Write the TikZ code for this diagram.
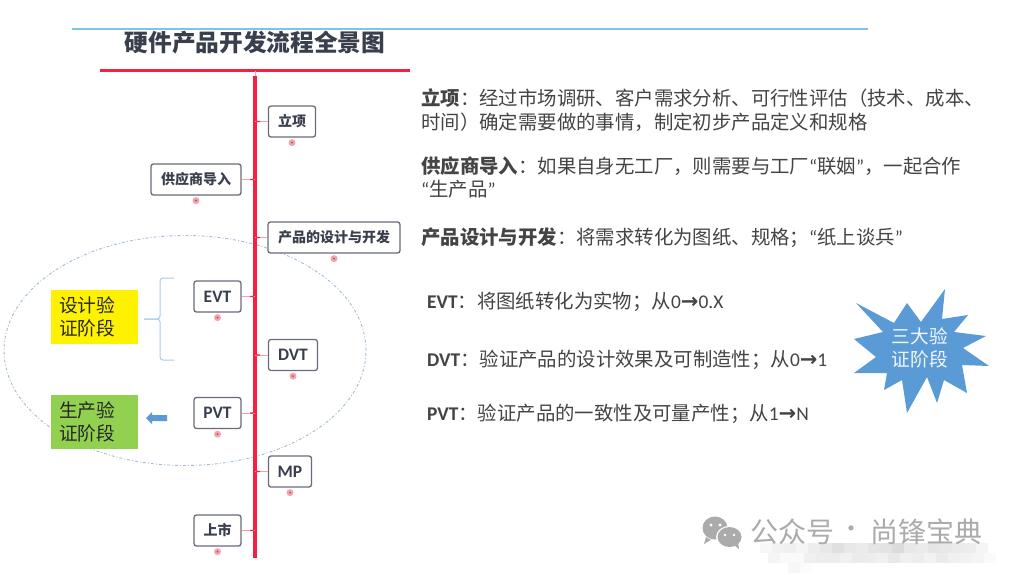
\documentclass[tikz,border=0pt]{standalone}
\usepackage{fontspec}
\setmainfont{Noto Sans CJK SC}
\newfontfamily\latn{Carlito}
\newfontfamily\arrowfont{DejaVu Sans}
\newcommand{\la}[1]{{\latn #1}}
\newcommand{\ar}{{\arrowfont\bfseries\fontsize{21}{19}\selectfont →}}
\definecolor{spinered}{HTML}{F5203F}
\definecolor{linkpink}{HTML}{F9A0AC}
\definecolor{boxedge}{HTML}{686C7A}
\definecolor{boxtext}{HTML}{3A3F4E}
\definecolor{bodytext}{HTML}{444444}
\definecolor{skyline}{HTML}{7CC4EA}
\definecolor{starblue}{HTML}{5B9BD5}
\definecolor{bracecol}{HTML}{A9CDEB}
\definecolor{ellcol}{HTML}{A3BDD6}
\definecolor{wmgray}{HTML}{ABABAB}
\definecolor{stagegreen}{HTML}{92D050}
\tikzset{
  x=1pt,y=-1pt,
  topic/.style={draw=boxedge,line width=1.3pt,rounded corners=2.5pt,fill=white,inner sep=0pt,
     font=\bfseries\fontsize{14}{14}\selectfont,text=boxtext,minimum height=31pt},
  latintopic/.style={topic,font=\bfseries\fontsize{17.5}{17.5}\selectfont\latn},
  link/.style={draw=linkpink,line width=1pt},
  tick/.style={draw=spinered,line width=1.2pt},
  para/.style={anchor=west,align=left,inner sep=0pt,text=bodytext,font=\fontsize{19.4}{23.5}\selectfont},
  stage/.style={inner xsep=8pt,inner ysep=0pt,text width=71pt,minimum height=54pt,align=left,text=black!85,
     font=\fontsize{18.7}{23}\selectfont},
  foldmark/.style={circle,fill=linkpink,draw=none,minimum size=7pt,inner sep=0pt},
}
\begin{document}
\begin{tikzpicture}
\useasboundingbox (0,0) rectangle (1015,574);
\fill[white] (0,0) rectangle (1015,574);
% rules
\coordinate (blueL) at (72,29); \coordinate (blueR) at (868,29);
\draw[skyline,line width=1.2pt] (blueL) -- (blueR);
\coordinate (redL) at (100,70.5); \coordinate (redR) at (410,70.5);
\draw[spinered,line width=3.6pt] (redL) -- (redR);
\node[anchor=center,inner sep=0pt,text=boxtext,font=\bfseries\fontsize{23.7}{24}\selectfont] (title) at (255,43) {硬件产品开发流程全景图};
% dash-dotted ellipse
\draw[ellcol,line width=0.9pt,dash pattern=on 3pt off 2pt on 1pt off 2pt] (185,350.5) ellipse [x radius=181pt,y radius=115pt];
% spine
\coordinate (spineTop) at (255,76); \coordinate (spineBot) at (255,558);
\draw[spinered,line width=3.6pt] (spineTop) -- (spineBot);
\coordinate (spineJoin) at (255,71);
\draw[linkpink,line width=0.8pt] (spineJoin) -- (spineTop);
% topics
\node[topic,minimum width=47pt] (lixiang) at (292,121.5) {\raisebox{-1pt}{立项}};
\node[topic,minimum width=90pt] (gys) at (196,179.5) {\raisebox{-1pt}{供应商导入}};
\node[topic,minimum width=132pt] (sheji) at (334,237.5) {\raisebox{-1pt}{产品的设计与开发}};
\node[latintopic,minimum width=47pt] (evt) at (217.5,296.5) {EVT};
\node[latintopic,minimum width=49pt] (dvt) at (293,355) {DVT};
\node[latintopic,minimum width=47pt] (pvt) at (217.5,413) {PVT};
\node[latintopic,minimum width=43pt] (mp) at (290,471.5) {MP};
\node[topic,minimum width=47pt] (shangshi) at (217.5,530.5) {\raisebox{-1pt}{上市}};
% connectors
\foreach \n in {lixiang,sheji,dvt,mp}{
  \draw[link] (\n.west) -- (\n.west -| spineTop);
  \draw[tick] ([yshift=3pt]\n.west -| spineTop) -- ++(2,3) -- ++(3,0);
}
\foreach \n in {gys,evt,pvt,shangshi}{
  \draw[link] (\n.east) -- (\n.east -| spineTop);
  \draw[tick] ([yshift=3pt]\n.east -| spineTop) -- ++(-2,3) -- ++(-3,0);
}
% fold marks
\foreach \n in {lixiang,gys,sheji,evt,dvt,pvt,mp,shangshi}{
  \node[foldmark] (fm\n) at ([yshift=-5pt]\n.south) {};
  \fill[boxedge] (fm\n.center) circle (1pt);
}
% stages
\node[stage,fill=yellow] (design) at (94.5,317) {设计验\\证阶段};
\node[stage,fill=stagegreen] (prod) at (94.5,422) {生产验\\证阶段};
% brace
\coordinate (braceTip) at (144,319);
\coordinate (braceTop) at (174,278); \coordinate (braceBot) at (174,360);
\draw[bracecol,line width=1pt,rounded corners=3pt] (braceTop) -- (160,278) -- (160,319) -- (braceTip);
\draw[bracecol,line width=1pt,rounded corners=3pt] (braceBot) -- (160,360) -- (160,319) -- (braceTip);
% block arrow
\fill[starblue] (146,418) -- (152,412) -- (152,415) -- (167,415) -- (167,421) -- (152,421) -- (152,424) -- cycle;
% descriptions
\node[para] (t1) at (421,110) {\textbf{立项}：经过市场调研、客户需求分析、可行性评估（技术、成本、\\时间）确定需要做的事情，制定初步产品定义和规格};
\node[para] (t2) at (421,177.5) {\textbf{供应商导入}：如果自身无工厂，则需要与工厂\la{“}联姻\la{”}，一起合作\\\la{“}生产品\la{”}};
\node[para] (t3) at (421,238) {\textbf{产品设计与开发}：将需求转化为图纸、规格；\la{“}纸上谈兵\la{”}};
\node[para] (t4) at (427,302) {\la{\textbf{EVT}}：将图纸转化为实物；从\la{0}\ar\la{0.X}};
\node[para] (t5) at (427,360) {\la{\textbf{DVT}}：验证产品的设计效果及可制造性；从\la{0}\ar\la{1}};
\node[para] (t6) at (427,414) {\la{\textbf{PVT}}：验证产品的一致性及可量产性；从\la{1}\ar\la{N}};
% star
\fill[starblue] (945,289) -- (942,319) -- (968,315) -- (954,332) -- (986,336) -- (963,348) -- (989,366) -- (962,365) -- (967,393) -- (944,380) -- (937,403) -- (927,377) -- (907,413) -- (902,380) -- (884,390) -- (887,373) -- (854,373) -- (876,357) -- (854,339) -- (883,332) -- (856,303) -- (894,323) -- (907,303) -- (921,322) -- cycle;
\node[inner sep=0pt,align=center,text=white!92!starblue,font=\fontsize{18.7}{23}\selectfont] (stars) at (920,348) {三大验\\证阶段};
% watermark mosaic
\foreach \x/\y/\g in {760/543/3,772/543/5,784/543/6,796/543/4,808/543/7,820/543/9,832/543/12,844/543/9,856/543/8,868/543/10,880/543/11,892/543/14,904/543/9,916/543/8,928/543/10,940/543/9,952/543/8,964/543/7,976/543/4,
 768/553/4,780/553/2,792/553/2,804/553/6,816/553/7,828/553/7,840/553/6,852/553/8,864/553/7,876/553/6,888/553/9,900/553/6,912/553/7,924/553/5,936/553/8,948/553/6,960/553/5,972/553/4,984/553/2,
 788/563/3,800/563/1}{
  \fill[black!\g] (\x,\y) rectangle ++(12,10);
}
% watermark
\fill[wmgray] (715,528) ellipse [x radius=12.5pt,y radius=11.5pt];
\fill[white] (729.5,537) ellipse [x radius=13.5pt,y radius=11pt];
\fill[wmgray] (729.5,537) ellipse [x radius=12pt,y radius=10pt];
\fill[wmgray] (706,537) -- (704,544) -- (711,540) -- cycle;
\fill[wmgray] (734,545) -- (739,549) -- (738,542) -- cycle;
\fill[white] (711,525) circle (1.6pt) (720,525) circle (1.6pt) (725,535) circle (1.4pt) (734,535) circle (1.4pt);
\node[anchor=west,inner sep=0pt,text=wmgray,font=\fontsize{28}{28}\selectfont] (wm1) at (750,532) {公众号};
\node[inner sep=0pt,text=wmgray,font=\fontsize{24}{24}\selectfont] (wmdot) at (851,532) {·};
\node[anchor=west,inner sep=0pt,text=wmgray,font=\fontsize{28}{28}\selectfont] (wm2) at (870,532) {尚锋宝典};
\end{tikzpicture}
\end{document}
